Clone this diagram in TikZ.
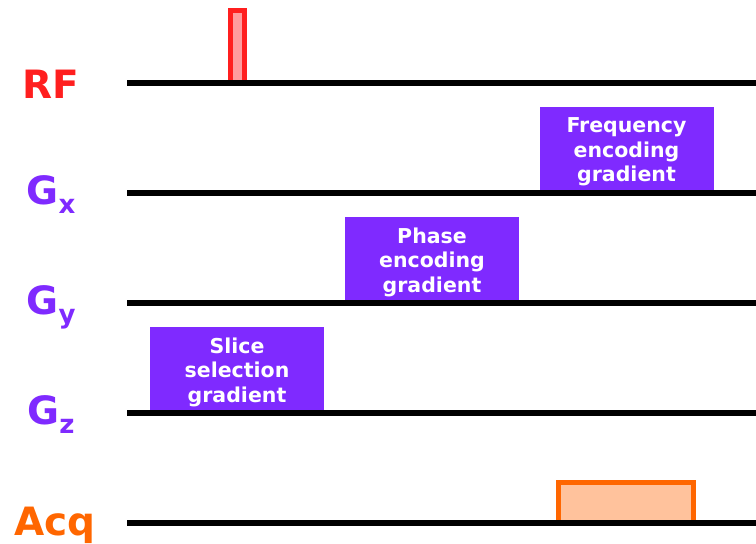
\documentclass[tikz,border=0pt]{standalone}
\usepackage{fontspec}
\setmainfont{DejaVu Sans}
\usetikzlibrary{calc}

\definecolor{rfred}{HTML}{FF1F1F}
\definecolor{rffill}{HTML}{FF9C9E}
\definecolor{gradpurple}{HTML}{7F2AFF}
\definecolor{acqorange}{HTML}{FF6600}
\definecolor{acqfill}{HTML}{FFC29C}

\newcommand{\gsub}[1]{G\raisebox{-9pt}{\fontsize{26}{26}\selectfont #1}}

\tikzset{
  timeline/.style={line width=5.5pt},
  gradbox/.style={fill=gradpurple, inner sep=0pt,
    minimum width=174pt, minimum height=84pt},
  gradtext/.style={text=white, align=center, inner sep=0pt,
    font=\fontsize{20.5}{24.5}\selectfont\bfseries},
  chanlabel/.style={anchor=base, font=\fontsize{39}{39}\selectfont\bfseries},
}

\begin{document}
\begin{tikzpicture}[x=1pt,y=-1pt]
    \useasboundingbox (0,0) rectangle (756,544);

    % start and end of each time line
    \coordinate (RFs) at (127,83);  \coordinate (RFe) at (758,83);
    \coordinate (Gxs) at (127,193); \coordinate (Gxe) at (758,193);
    \coordinate (Gys) at (127,303); \coordinate (Gye) at (758,303);
    \coordinate (Gzs) at (127,413); \coordinate (Gze) at (758,413);
    \coordinate (Acqs) at (127,523); \coordinate (Acqe) at (758,523);

    \node[chanlabel, text=rfred] at (51,98) (RF) {RF};
    \node[chanlabel, text=gradpurple] at (51,204) (Gx) {\gsub{x}};
    \node[chanlabel, text=gradpurple] at (51,314) (Gy) {\gsub{y}};
    \node[chanlabel, text=gradpurple] at (51,424) (Gz) {\gsub{z}};
    \node[chanlabel, text=acqorange] at (55,535) (Acq) {Acq};

    % pulses
    \draw[rfred, fill=rffill, line width=5pt] (230.5,83) rectangle (244.5,10.5);
    \node[gradbox] at (626.5,149) (FreqEnc) {};
    \node[gradbox] at (432,259) (PhaseEnc) {};
    \node[gradbox] at (237,369) (SliceSel) {};
    \node[gradtext] at ([yshift=-3pt]FreqEnc.center) (FreqTxt) {Frequency\\encoding\\gradient};
    \node[gradtext] at ([yshift=-3pt]PhaseEnc.center) (PhaseTxt) {Phase\\encoding\\gradient};
    \node[gradtext] at ([yshift=-3pt]SliceSel.center) (SliceTxt) {Slice\\selection\\gradient};
    \draw[acqorange, fill=acqfill, line width=5pt] (558.5,523) rectangle (693.5,482.5);

    \draw[timeline] (RFs) -- (RFe);
    \draw[timeline] (Gxs) -- (Gxe);
    \draw[timeline] (Gys) -- (Gye);
    \draw[timeline] (Gzs) -- (Gze);
    \draw[timeline] (Acqs) -- (Acqe);
  \end{tikzpicture}
\end{document}
